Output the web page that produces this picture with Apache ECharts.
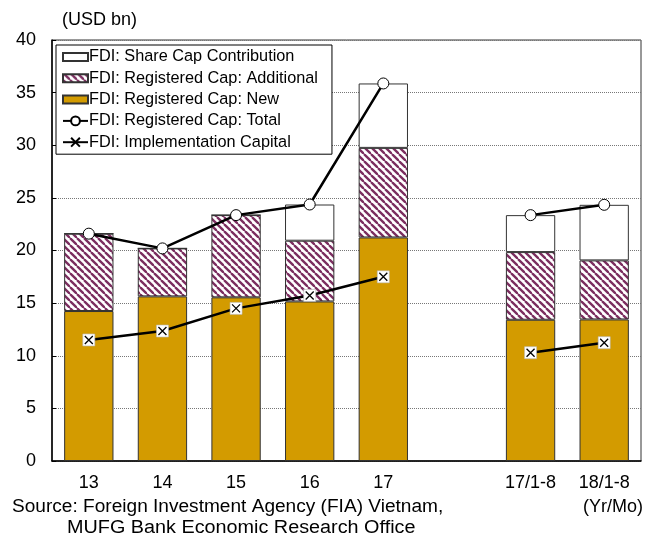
<!DOCTYPE html>
<html>
<head>
<meta charset="utf-8">
<script src="https://cdn.jsdelivr.net/npm/echarts@6/dist/echarts.min.js"></script>
<style>
html, body { margin: 0; padding: 0; background: #fff; }
#chart { width: 645px; height: 536px; }
</style>
</head>
<body>
<div id="chart"></div>
<script>
// categories (blank slot separates full years from Jan-Aug)
var categories = ['13', '14', '15', '16', '17', '', '17/1-8', '18/1-8'];
// USD bn
var regNew = [14.25, 15.64, 15.55, 15.16, 21.24, null, 13.42, 13.45];
var regAdditional = [7.35, 4.56, 7.81, 5.77, 8.51, null, 6.43, 5.61];
var shareCap = [0, 0, 0, 3.44, 6.12, null, 3.51, 5.28];
var regTotal = [21.6, 20.2, 23.36, 24.37, 35.87, null, 23.36, 24.34];
var implCap = [11.5, 12.35, 14.5, 15.73, 17.5, null, 10.29, 11.24];
var yMin = 0, yMax = 40, yStep = 5;

var FONT = '"Liberation Sans", Arial, sans-serif';
var X_PATH = 'path://M0,0L10,10M10,0L0,10';
var RECT_ICON = 'path://M0,0H25V8H0Z';

// 斜线填充
function hatch() {
    var s = 7;
    var c = document.createElement('canvas');
    c.width = s;
    c.height = s;
    var g = c.getContext('2d');
    g.fillStyle = '#fff';
    g.fillRect(0, 0, s, s);
    g.strokeStyle = '#7b2d5f';
    g.lineWidth = 2.3;
    for (var k = -1; k <= 1; k++) {
        g.beginPath();
        g.moveTo(k * s, 0);
        g.lineTo(k * s + s, s);
        g.stroke();
    }
    return c;
}

var chart = echarts.init(document.getElementById('chart'), null, { renderer: 'canvas' });

var option = {
    animation: false,
    textStyle: { fontFamily: FONT },
    grid: {
        left: 52, right: 4, top: 40, bottom: 75,
        show: true, borderColor: '#333', borderWidth: 1
    },
    legend: {
        left: 56, top: 45,
        orient: 'vertical',
        data: [
            { name: 'FDI: Share Cap Contribution', icon: RECT_ICON },
            { name: 'FDI: Registered Cap: Additional', icon: RECT_ICON },
            { name: 'FDI: Registered Cap: New', icon: RECT_ICON },
            'FDI: Registered Cap: Total',
            'FDI: Implementation Capital'
        ],
        itemWidth: 25,
        itemHeight: 11,
        itemGap: 3.3,
        padding: [3, 14, 3, 6],
        backgroundColor: '#fff',
        borderColor: '#000',
        borderWidth: 1,
        borderRadius: 0,
        selectedMode: false,
        textStyle: { fontFamily: FONT, fontSize: 16.3, color: '#000', lineHeight: 18, padding: [0, 0, 0, -4] }
    },
    xAxis: {
        type: 'category',
        data: categories,
        axisLine: { lineStyle: { color: '#000', width: 1.5 } },
        axisTick: { inside: true, length: 5, interval: 0, lineStyle: { color: '#000' } },
        axisLabel: { interval: 0, fontSize: 18, color: '#000', margin: 13, fontFamily: FONT }
    },
    yAxis: {
        type: 'value',
        min: yMin, max: yMax, interval: yStep,
        axisLine: { show: true, lineStyle: { color: '#000', width: 1.5 } },
        axisTick: { show: true, inside: true, length: 4, lineStyle: { color: '#000' } },
        axisLabel: { fontSize: 18, color: '#000', margin: 16, fontFamily: FONT },
        splitLine: { lineStyle: { color: '#777', type: 'dotted', width: 1 } }
    },
    series: [
        {
            name: 'FDI: Registered Cap: New',
            type: 'bar', stack: 'fdi', barWidth: '67%',
            itemStyle: { color: '#d39b00', borderColor: '#333', borderWidth: 1 },
            data: regNew
        },
        {
            name: 'FDI: Registered Cap: Additional',
            type: 'bar', stack: 'fdi', barWidth: '67%',
            itemStyle: { color: { image: hatch(), repeat: 'repeat' }, borderColor: '#333', borderWidth: 1 },
            data: regAdditional
        },
        {
            name: 'FDI: Share Cap Contribution',
            type: 'bar', stack: 'fdi', barWidth: '67%',
            itemStyle: { color: '#fff', borderColor: '#333', borderWidth: 1 },
            data: shareCap
        },
        {
            name: 'FDI: Registered Cap: Total',
            type: 'line', z: 5,
            symbol: 'circle', symbolSize: 11,
            lineStyle: { color: '#000', width: 2.5 },
            itemStyle: { color: '#fff', borderColor: '#000', borderWidth: 1 },
            data: regTotal
        },
        {
            name: 'FDI: Implementation Capital',
            type: 'line', z: 2,
            symbol: X_PATH, symbolSize: 8,
            lineStyle: { color: '#000', width: 2.5 },
            itemStyle: { color: '#fff', borderColor: '#000', borderWidth: 1.3 },
            data: implCap
        },
        {
            // white box behind the x markers
            name: 'implBox',
            type: 'scatter', z: 3,
            symbol: 'rect', symbolSize: 12,
            itemStyle: { color: '#fff', borderColor: '#bbb', borderWidth: 0.6, opacity: 1 },
            data: implCap
        },
        {
            name: 'implX',
            type: 'scatter', z: 4,
            symbol: X_PATH, symbolSize: 8,
            itemStyle: { color: '#fff', borderColor: '#000', borderWidth: 1.3, opacity: 1 },
            data: implCap
        }
    ],
    graphic: [
        { type: 'text', left: 62, top: 11, style: { text: '(USD bn)', font: '18px ' + FONT, fill: '#000' } },
        { type: 'text', x: 12, y: 498, scaleX: 1.06, style: { text: 'Source: Foreign Investment Agency (FIA) Vietnam,', font: '18px ' + FONT, fill: '#000' } },
        { type: 'text', x: 67, y: 519, scaleX: 1.1, style: { text: 'MUFG Bank Economic Research Office', font: '18px ' + FONT, fill: '#000' } },
        { type: 'text', right: 2, top: 498, style: { text: '(Yr/Mo)', font: '18px ' + FONT, fill: '#000' } }
    ]
};

chart.setOption(option);
</script>
</body>
</html>
